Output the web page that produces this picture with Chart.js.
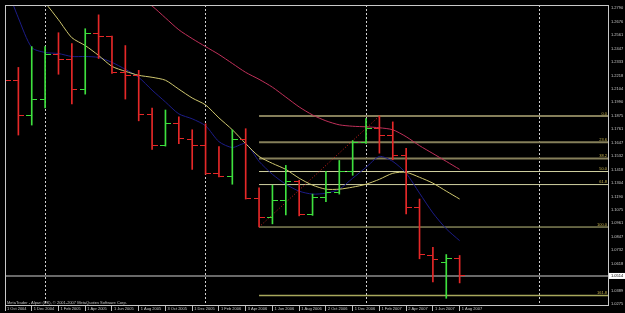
<!DOCTYPE html>
<html><head><meta charset="utf-8">
<script src="https://cdn.jsdelivr.net/npm/chart.js@4.4.0/dist/chart.umd.min.js"></script>
<style>html,body{margin:0;padding:0;background:#000;overflow:hidden}canvas{display:block}</style>
</head><body>
<canvas id="c" width="625" height="313"></canvas>
<script>
// ---- data (monthly bars, Oct 2004 .. Aug 2007) ----
const months = ["Oct 2004","Nov 2004","Dec 2004","Jan 2005","Feb 2005","Mar 2005","Apr 2005","May 2005","Jun 2005","Jul 2005","Aug 2005","Sep 2005","Oct 2005","Nov 2005","Dec 2005","Jan 2006","Feb 2006","Mar 2006","Apr 2006","May 2006","Jun 2006","Jul 2006","Aug 2006","Sep 2006","Oct 2006","Nov 2006","Dec 2006","Jan 2007","Feb 2007","Mar 2007","Apr 2007","May 2007","Jun 2007","Jul 2007","Aug 2007"];
const opens  = [1.2262,1.2176,1.1875,1.2016,1.2399,1.2355,1.2102,1.2574,1.2548,1.2245,1.2220,1.1883,1.1622,1.1808,1.1673,1.1622,1.1387,1.1361,1.1673,1.1176,1.1010,1.1157,1.1313,1.1033,1.1185,1.1221,1.1404,1.1650,1.1768,1.1704,1.1538,1.1093,1.0688,1.0627,1.0665];
const highs  = [1.2372,1.2287,1.2464,1.2464,1.2582,1.2490,1.2616,1.2734,1.2554,1.2473,1.2262,1.1942,1.1925,1.1867,1.1757,1.1808,1.1614,1.1757,1.1766,1.1263,1.1286,1.1454,1.1328,1.1210,1.1404,1.1496,1.1665,1.1852,1.1874,1.1824,1.1600,1.1168,1.0758,1.0696,1.0688];
const lows   = [1.2060,1.1712,1.1797,1.1942,1.2229,1.1976,1.2060,1.2363,1.2237,1.2018,1.1833,1.1589,1.1618,1.1639,1.1420,1.1378,1.1357,1.1294,1.1168,1.0930,1.0957,1.1033,1.1025,1.1029,1.1145,1.1210,1.1370,1.1640,1.1558,1.1502,1.1042,1.0660,1.0463,1.0324,1.0455];
const closes = [1.2176,1.1875,1.2016,1.2399,1.2355,1.2102,1.2574,1.2548,1.2245,1.2220,1.1883,1.1622,1.1808,1.1681,1.1622,1.1387,1.1361,1.1673,1.1176,1.1010,1.1157,1.1313,1.1033,1.1185,1.1221,1.1404,1.1650,1.1768,1.1704,1.1538,1.1095,1.0696,1.0652,1.0665,1.0514];
const maRed    = [null,null,null,null,null,null,null,null,null,null,1.2885,1.2809,1.2708,1.2607,1.2532,1.2464,1.2397,1.2321,1.2245,1.2186,1.2119,1.2035,1.1951,1.1883,1.1833,1.1799,1.1787,1.1782,1.1774,1.1757,1.1698,1.1622,1.1555,1.1488,1.1420];
const maYellow = [null,null,1.2936,1.2835,1.2692,1.2540,1.2473,1.2389,1.2296,1.2254,1.2220,1.2203,1.2178,1.2102,1.2027,1.1968,1.1858,1.1757,1.1639,1.1530,1.1471,1.1420,1.1345,1.1286,1.1252,1.1252,1.1269,1.1294,1.1336,1.1387,1.1395,1.1353,1.1303,1.1235,1.1168];
const maBlue   = [1.3003,1.2708,1.2456,1.2414,1.2405,1.2380,1.2380,1.2372,1.2330,1.2271,1.2203,1.2094,1.1993,1.1892,1.1850,1.1791,1.1656,1.1606,1.1639,1.1488,1.1378,1.1294,1.1235,1.1210,1.1218,1.1252,1.1345,1.1437,1.1530,1.1488,1.1387,1.1218,1.1050,1.0915,1.0814];
const fibLevels = [1.1874,1.1651,1.1513,1.1402,1.1291,1.0930,1.0347];
const fibLabels = ["0.0","23.6","38.2","50.0","61.8","100.0","161.8"];
const fibFromIdx = 19, fibToIdx = 28;
const currentPrice = 1.0514;
const yTicks = [1.2790,1.2676,1.2561,1.2447,1.2333,1.2218,1.2104,1.1990,1.1875,1.1761,1.1647,1.1532,1.1418,1.1304,1.1190,1.1075,1.0961,1.0847,1.0732,1.0618,1.0504,1.0389,1.0275];
const xTickIdx = [0,2,4,6,8,10,12,14,16,18,20,22,24,26,28,30,32,34];
const xTickLabels = ["1 Oct 2004","1 Dec 2004","1 Feb 2005","1 Apr 2005","1 Jun 2005","1 Aug 2005","3 Oct 2005","1 Dec 2005","1 Feb 2006","3 Apr 2006","1 Jun 2006","1 Aug 2006","2 Oct 2006","1 Dec 2006","1 Feb 2007","2 Apr 2007","1 Jun 2007","1 Aug 2007"];
const gridIdx = [3,15,27,40];
const copyright = "MetaTrader - Alpari (UK), \u00A9 2001-2007 MetaQuotes Software Corp.";
const X_MIN = 0, X_MAX = 45.17, Y_MIN = 1.02586, Y_MAX = 1.28178;

// ---- styles ----
const RED = '#e62828', GREEN = '#3ee03e';
const fibColors = ['#857f5a','#857f5a','#857f5a','#d2d2a2','#d2d2a2','#c0c080','#a8a85c'];
const fibWidths = [2,2,2,1,1,1,1.5];
Chart.defaults.font.family = "'Liberation Sans', Arial, sans-serif";

function tickCanvas(color, left) {
  const c = document.createElement('canvas');
  c.width = 11; c.height = 1;
  const g = c.getContext('2d');
  g.fillStyle = color;
  g.fillRect(left ? 0 : 6, 0, 5, 1);
  return c;
}
const openRed = tickCanvas(RED, true), openGreen = tickCanvas(GREEN, true);
const closeRed = tickCanvas(RED, false), closeGreen = tickCanvas(GREEN, false);
const idx = months.map((m, i) => i);
const isUp = i => closes[i] >= opens[i];

const datasets = [
  { type:'bar', data: idx.map(i => ({x:i, y:[lows[i], highs[i]]})),
    backgroundColor: idx.map(i => isUp(i) ? GREEN : RED), barThickness:1, borderWidth:0, order:1 },
  { type:'line', data: idx.map(i => ({x:i, y:opens[i]})), showLine:false, pointRadius:3,
    pointStyle: idx.map(i => isUp(i) ? openGreen : openRed), order:1 },
  { type:'line', data: idx.map(i => ({x:i, y:closes[i]})), showLine:false, pointRadius:3,
    pointStyle: idx.map(i => isUp(i) ? closeGreen : closeRed), order:1 },
  { type:'line', data: idx.map(i => ({x:i, y:maRed[i]})), borderColor:'#c0305a', borderWidth:1, pointRadius:0, tension:0.25, order:2 },
  { type:'line', data: idx.map(i => ({x:i, y:maYellow[i]})), borderColor:'#d0c870', borderWidth:1, pointRadius:0, tension:0.25, order:2 },
  { type:'line', data: idx.map(i => ({x:i, y:maBlue[i]})), borderColor:'#1c1c88', borderWidth:1, pointRadius:0, tension:0.25, order:2 },
  { type:'line', data: [{x:fibFromIdx, y:lows[fibFromIdx]}, {x:fibToIdx, y:highs[fibToIdx]}], borderColor:'#d02020', borderWidth:1, borderDash:[1,2], pointRadius:0, order:2 },
  { type:'line', data: [{x:X_MIN, y:currentPrice}, {x:X_MAX, y:currentPrice}], borderColor:'#8c8c8c', borderWidth:1.5, pointRadius:0, order:3 }
];
fibLevels.forEach((v, k) => datasets.push({
  type:'line', data:[{x:fibFromIdx, y:v}, {x:X_MAX, y:v}], borderColor: fibColors[k], borderWidth: fibWidths[k], pointRadius:0, order:4
}));

const mtPlugin = {
  id:'mt',
  beforeDraw(chart) {
    const c = chart.ctx; c.save(); c.fillStyle = '#000'; c.fillRect(0, 0, chart.width, chart.height); c.restore();
  },
  afterDatasetsDraw(chart) {
    const c = chart.ctx, ys = chart.scales.y, xs = chart.scales.x;
    c.save();
    c.font = "4px 'Liberation Sans', Arial, sans-serif";
    c.fillStyle = '#c8b450'; c.textAlign = 'right'; c.textBaseline = 'bottom';
    const xr = xs.getPixelForValue(X_MAX) - 2;
    fibLevels.forEach((v, k) => c.fillText(fibLabels[k], xr, ys.getPixelForValue(v) - 0.5));
    c.restore();
  },
  afterDraw(chart) {
    const c = chart.ctx, a = chart.chartArea, ys = chart.scales.y;
    c.save();
    c.strokeStyle = '#c8c8c8'; c.lineWidth = 1;
    c.strokeRect(a.left + 0.5, a.top + 0.5, a.right - a.left - 1, a.bottom - a.top - 1);
    const py = ys.getPixelForValue(currentPrice);
    c.fillStyle = '#ffffff'; c.fillRect(a.right, py - 3, chart.width - a.right, 6);
    c.fillStyle = '#000'; c.font = "4px 'Liberation Sans', Arial, sans-serif";
    c.textAlign = 'left'; c.textBaseline = 'middle';
    c.fillText(currentPrice.toFixed(4), a.right + 2, py);
    c.fillStyle = '#c0c0c0'; c.textBaseline = 'alphabetic';
    c.fillText(copyright, a.left + 2, a.bottom - 2);
    c.restore();
  }
};

new Chart(document.getElementById('c'), {
  type:'bar',
  data:{ datasets },
  plugins:[mtPlugin],
  options:{
    responsive:false, animation:false, events:[],
    layout:{ padding:{ top:2, left:1, right:0, bottom:0 } },
    plugins:{ legend:{display:false}, tooltip:{enabled:false} },
    scales:{
      x:{ type:'linear', min:X_MIN, max:X_MAX, offset:false, position:'bottom',
        afterBuildTicks: s => { s.ticks = xTickIdx.map(v => ({value:v})); },
        afterFit: s => { s.height = 7; s.paddingLeft = 0; s.paddingRight = 0; },
        grid:{ display:true, drawOnChartArea:false, drawTicks:true, tickLength:5, tickColor:'#c0c0c0', offset:false },
        border:{ display:false },
        ticks:{ autoSkip:false, maxRotation:0, minRotation:0, align:'start', padding:-5, labelOffset:2, color:'#c8c8c8',
          font:{ size:4 }, callback: v => { const k = xTickIdx.indexOf(v); return k >= 0 ? xTickLabels[k] : ''; } }
      },
      x2:{ type:'linear', min:X_MIN, max:X_MAX, offset:false, position:'bottom',
        afterBuildTicks: s => { s.ticks = gridIdx.map(v => ({value:v})); },
        afterFit: s => { s.height = 0; s.paddingLeft = 0; s.paddingRight = 0; },
        ticks:{ display:false },
        grid:{ color:'#d0d0d0', lineWidth:1, drawTicks:false, offset:false },
        border:{ display:false, dash:[2,2] }
      },
      y:{ type:'linear', position:'right', min:Y_MIN, max:Y_MAX,
        afterBuildTicks: s => { s.ticks = yTicks.map(v => ({value:v})); },
        afterFit: s => { s.width = 16; s.paddingTop = 0; s.paddingBottom = 0; },
        grid:{ display:false, drawTicks:false }, border:{ display:false },
        ticks:{ autoSkip:false, padding:2, color:'#c8c8c8', font:{ size:4 }, callback: v => Number(v).toFixed(4) }
      }
    }
  }
});
</script>
</body></html>
